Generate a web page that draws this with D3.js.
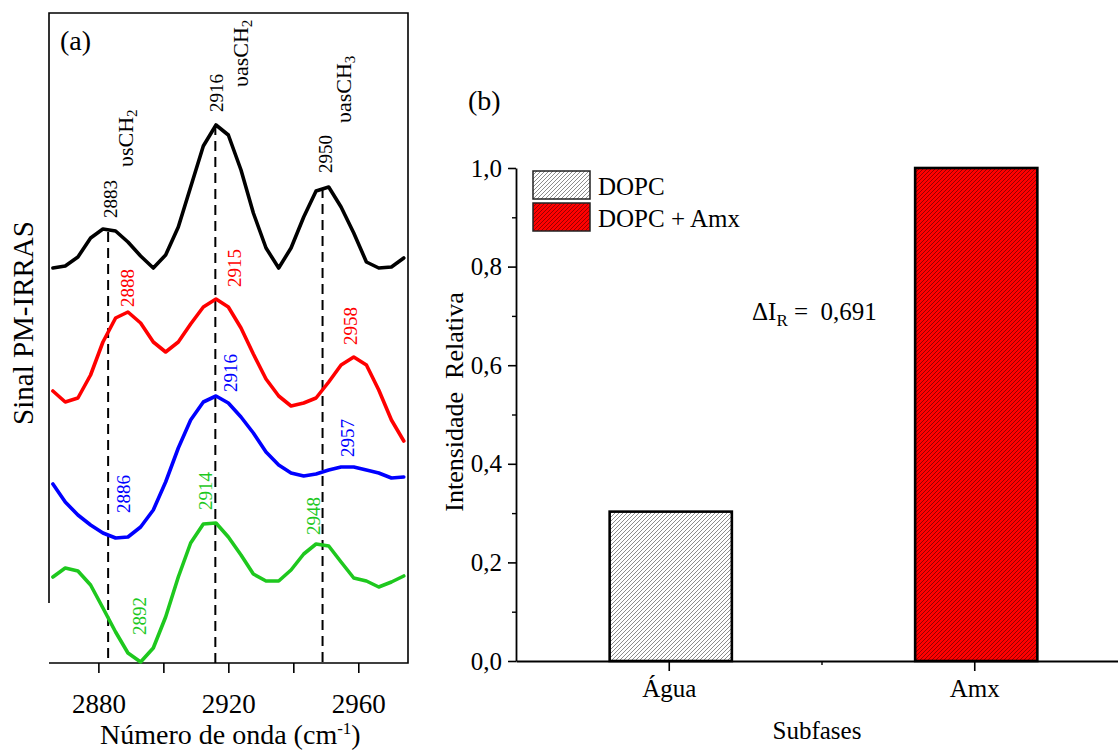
<!DOCTYPE html>
<html>
<head>
<meta charset="utf-8">
<script src="https://cdn.jsdelivr.net/npm/d3@7"></script>
<style>
  body { margin: 0; background: #fff; }
  text { font-family: "Liberation Serif", "Times New Roman", serif; fill: #000; }
</style>
</head>
<body>
<svg id="chart"></svg>
<script>
// ---- panel (a): PM-IRRAS spectra ----
const wavenumbers = [2866.0, 2869.8, 2873.7, 2877.6, 2881.4, 2885.3, 2889.1, 2893.0, 2896.9, 2900.7,
    2904.6, 2908.4, 2912.3, 2916.2, 2920.0, 2923.9, 2927.7, 2931.6, 2935.5, 2939.3,
    2943.2, 2947.0, 2950.9, 2954.7, 2958.6, 2962.5, 2966.3, 2970.2, 2974.0];
const blackSignal = [395, 397, 406, 425, 434, 432, 421, 407, 395, 408, 436, 476, 517, 538, 528, 493, 450, 415, 395, 415, 446, 472, 476, 456, 430, 401, 395, 396, 405];
const redSignal = [272, 261, 265, 288, 321, 345, 351, 340, 321, 311, 321, 339, 356, 364, 356, 335, 309, 284, 267, 257, 260, 265, 281, 298, 306, 298, 273, 243, 222];
const blueSignal = [179, 161, 148, 138, 130, 125, 126, 136, 153, 181, 215, 243, 261, 267, 260, 246, 230, 211, 198, 190, 187, 189, 193, 196, 196, 193, 190, 185, 186];
const greenSignal = [86, 95, 92, 78, 55, 31, 10, 1, 15, 46, 86, 120, 139, 140, 126, 108, 89, 82, 82, 93, 109, 119, 117, 101, 85, 82, 76, 81, 87];

const guideWavenumbers = [2883, 2916, 2949];
const guideTops = [431, 538, 475];

// [wavenumber, signal, text]
const blackPeaks = [[2883.6, 445, '2883'], [2916.2, 551, '2916'], [2950, 490, '2950']];
const redPeaks = [[2888.8, 356, '2888'], [2922, 376, '2915'], [2957.4, 318, '2958']];
const bluePeaks = [[2887.7, 150, '2886'], [2920.7, 271, '2916'], [2956.5, 206, '2957']];
const greenPeaks = [[2892.5, 28, '2892'], [2913, 153, '2914'], [2946.2, 128, '2948']];
// [wavenumber, signal, mode, group, subscript]
const modeLabels = [[2888.2, 496, 'υs', 'CH', '2'], [2923.6, 576, 'υas', 'CH', '2'], [2955.3, 540, 'υas', 'CH', '3']];

const xTicksA = [2880, 2900, 2920, 2940, 2960];
const xLabelsA = [2880, 2920, 2960];

// ---- panel (b): relative intensity ----
const subfases = ['Água', 'Amx'];
const intensities = [0.303, 1.0];
const legendLabels = ['DOPC', 'DOPC + Amx'];
const yTicksB = [0, 0.2, 0.4, 0.6, 0.8, 1.0];
const yMinorB = [0.1, 0.3, 0.5, 0.7, 0.9];
const deltaIR = '0,691';

const serif = '"Liberation Serif", "Times New Roman", serif';
const width = 1118, height = 751;
const svg = d3.select('#chart').attr('width', width).attr('height', height);

// hatch patterns (45 degree "/" lines)
const defs = svg.append('defs');
function hatch(id, bg, fg, w) {
    const p = defs.append('pattern').attr('id', id)
        .attr('patternUnits', 'userSpaceOnUse').attr('width', 4).attr('height', 4);
    p.append('rect').attr('width', 4).attr('height', 4).attr('fill', bg);
    p.append('path').attr('d', 'M-1,1 L1,-1 M0,4 L4,0 M3,5 L5,3')
        .attr('stroke', fg).attr('stroke-width', w);
}
hatch('hatchGray', '#ffffff', '#8c8c8c', 1.0);
hatch('hatchRed', '#ff0000', '#6a0000', 0.7);
const fills = ['url(#hatchGray)', 'url(#hatchRed)'];

// ===== panel (a) =====
const frame = {left: 49, right: 408, top: 13, bottom: 663};
const x = d3.scaleLinear().domain([2864.8, 2975.3]).range([frame.left, frame.right]);
const y = d3.scaleLinear().domain([0, 650]).range([frame.bottom, frame.top]);

const gA = svg.append('g');

gA.append('path')
    .attr('d', `M${frame.left},603 V${frame.top} H${frame.right} V${frame.bottom} H${frame.left}`)
    .attr('fill', 'none').attr('stroke', '#000').attr('stroke-width', 1.6);

const xAxisA = gA.append('g')
    .attr('transform', `translate(0,${frame.bottom})`)
    .call(d3.axisBottom(x).tickValues(xTicksA).tickSize(10).tickSizeOuter(0)
        .tickFormat(d => xLabelsA.includes(d) ? d : ''));
xAxisA.select('.domain').remove();
xAxisA.selectAll('line').attr('stroke-width', 1.6);
xAxisA.selectAll('text').attr('font-size', 27).attr('dy', 0).attr('y', 50);

gA.selectAll('.guide').data(guideWavenumbers).join('line')
    .attr('x1', d => x(d)).attr('x2', d => x(d))
    .attr('y1', (d, i) => y(guideTops[i])).attr('y2', y(0))
    .attr('stroke', '#000').attr('stroke-width', 2).attr('stroke-dasharray', '10,6');

const line = d3.line().x((d, i) => x(wavenumbers[i])).y(d => y(d));
const series = [
    {values: blackSignal, color: '#000000', peaks: blackPeaks},
    {values: redSignal, color: '#ff0000', peaks: redPeaks},
    {values: blueSignal, color: '#0000ff', peaks: bluePeaks},
    {values: greenSignal, color: '#1ec81e', peaks: greenPeaks}
];
series.forEach(s => {
    gA.append('path').datum(s.values)
        .attr('fill', 'none').attr('stroke', s.color).attr('stroke-width', 3.6)
        .attr('stroke-linejoin', 'round').attr('stroke-linecap', 'round')
        .attr('d', line);
    gA.selectAll(null).data(s.peaks).join('text')
        .attr('transform', d => `translate(${x(d[0])},${y(d[1])}) rotate(-90)`)
        .attr('dy', '0.35em').attr('font-size', 19)
        .style('fill', s.color)
        .text(d => d[2]);
});

modeLabels.forEach(m => {
    const t = gA.append('text')
        .attr('transform', `translate(${x(m[0])},${y(m[1])}) rotate(-90)`)
        .attr('dy', '0.35em').attr('font-size', 22);
    t.append('tspan').text(m[2] + m[3]);
    t.append('tspan').attr('dy', '0.3em').attr('font-size', 15).text(m[4]);
});

gA.append('text').attr('x', 60).attr('y', 50).attr('font-size', 28).text('(a)');

const xTitle = gA.append('text').attr('x', (x(2880) + x(2960)) / 2 + 2).attr('y', 744)
    .attr('text-anchor', 'middle').attr('font-size', 28);
xTitle.append('tspan').text('Número de onda (cm');
xTitle.append('tspan').attr('dy', -10).attr('font-size', 17).text('-1');
xTitle.append('tspan').attr('dy', 10).text(')');

gA.append('text').attr('transform', 'translate(33,323) rotate(-90)')
    .attr('text-anchor', 'middle').attr('font-size', 29).text('Sinal PM-IRRAS');

// ===== panel (b) =====
const xb = d3.scaleLinear().domain([0.5, 2.5]).range([516, 1127]);
const yb = d3.scaleLinear().domain([0, 1]).range([661, 168]);
const barW = xb(1.2) - xb(0.8);
const comma = d => d3.format('.1f')(d).replace('.', ',');

const gB = svg.append('g');

gB.selectAll('.bar').data(intensities).join('rect')
    .attr('x', (d, i) => xb(i + 1) - barW / 2 + 2)
    .attr('width', barW)
    .attr('y', d => yb(d))
    .attr('height', d => yb(0) - yb(d))
    .attr('fill', (d, i) => fills[i])
    .attr('stroke', '#000').attr('stroke-width', 2.6);

const yAxisB = gB.append('g').attr('transform', `translate(${xb(0.5)},0)`)
    .call(d3.axisLeft(yb).tickValues(yTicksB).tickSize(8).tickSizeOuter(0).tickFormat(comma));
yAxisB.select('.domain').attr('stroke-width', 1.8);
yAxisB.selectAll('line').attr('stroke-width', 1.6);
yAxisB.selectAll('text').attr('font-size', 25).attr('x', -14);
const yMinorAxis = gB.append('g').attr('transform', `translate(${xb(0.5)},0)`)
    .call(d3.axisLeft(yb).tickValues(yMinorB).tickSize(4).tickFormat(''));
yMinorAxis.select('.domain').remove();
yMinorAxis.selectAll('line').attr('stroke-width', 1.4);

const xAxisB = gB.append('g').attr('transform', `translate(0,${yb(0)})`)
    .call(d3.axisBottom(xb).tickValues([1, 2]).tickSize(10).tickSizeOuter(0)
        .tickFormat(d => subfases[d - 1]));
xAxisB.select('.domain').attr('stroke-width', 1.8);
xAxisB.selectAll('line').attr('stroke-width', 1.6);
xAxisB.selectAll('text').attr('font-size', 25).attr('dy', 0).attr('y', 36);
const xMinorAxis = gB.append('g').attr('transform', `translate(0,${yb(0)})`)
    .call(d3.axisBottom(xb).tickValues([1.5]).tickSize(4).tickFormat(''));
xMinorAxis.select('.domain').remove();
xMinorAxis.selectAll('line').attr('stroke-width', 1.4);

gB.append('text').attr('x', 817).attr('y', 739).attr('text-anchor', 'middle')
    .attr('font-size', 25).text('Subfases');
gB.append('text').attr('transform', 'translate(463,402) rotate(-90)')
    .attr('text-anchor', 'middle').attr('font-size', 26)
    .style('white-space', 'pre').text('Intensidade  Relativa');
gB.append('text').attr('x', 468).attr('y', 110).attr('font-size', 28).text('(b)');

// legend
const legend = gB.selectAll('.legend').data(legendLabels).join('g')
    .attr('transform', (d, i) => `translate(533,${171 + i * 32})`);
legend.append('rect').attr('width', 57).attr('height', 28)
    .attr('fill', (d, i) => fills[i]).attr('stroke', '#222').attr('stroke-width', 1.5);
legend.append('text').attr('x', 65).attr('y', 24).attr('font-size', 25).text(d => d);

// delta I_R annotation
const delta = gB.append('text').attr('x', 752).attr('y', 320).attr('font-size', 25)
    .style('white-space', 'pre');
delta.append('tspan').text('ΔI');
delta.append('tspan').attr('dy', 6).attr('font-size', 17).text('R');
delta.append('tspan').attr('dy', -6).text(' =  ' + deltaIR);

// one serif family for every label, axis ticks included
svg.selectAll('text').style('font-family', serif);
</script>
</body>
</html>
